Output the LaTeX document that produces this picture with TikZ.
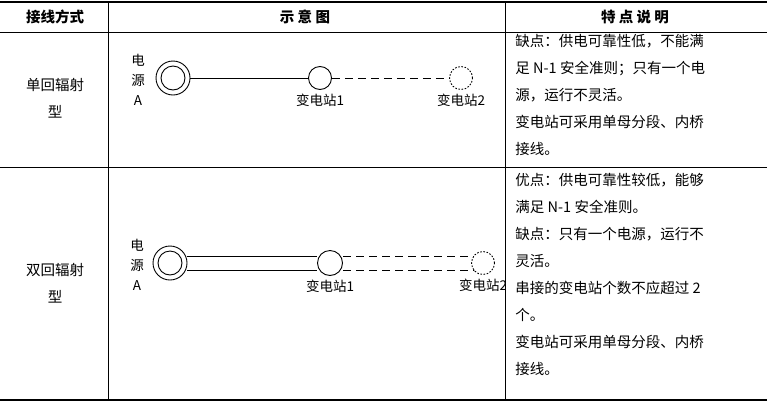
\documentclass[tikz,border=0pt]{standalone}
\usepackage{fontspec}
\setmainfont{Noto Sans CJK SC}
\usetikzlibrary{positioning}
\begin{document}
\begin{tikzpicture}[x=1pt,y=-1pt, line width=0.9pt,
  every node/.style={inner sep=0pt, font=\fontsize{14.5}{24}\selectfont},
  head/.style={font=\fontsize{14.5}{24}\selectfont\bfseries},
  note/.style={anchor=north west, align=left, font=\fontsize{14.5}{27}\selectfont},
  src/.style={circle, draw, minimum size=34pt},
  srcin/.style={circle, draw, minimum size=24pt},
  sta/.style={circle, draw, fill=white, minimum size=23pt},
  ghost/.style={circle, draw, dash pattern=on 1.6pt off 1.6pt, fill=white, minimum size=23pt},
  lbl/.style={font=\fontsize{13.5}{16}\selectfont},
  dashl/.style={dash pattern=on 8pt off 5pt}
]
\useasboundingbox (0,0) rectangle (767,402);
% table lines
\draw[line width=1.4pt] (0,2) -- (767,2);
\draw (0,32) -- (767,32);
\draw (0,167) -- (767,167);
\draw[line width=1.4pt] (0,400) -- (767,400);
\draw (108,2) -- (108,400);
\draw (505,2) -- (505,400);

% headers
\node[head] (h1) at (55,17) {接线方式};
\node[head] (h2) at (305,17) {示 意 图};
\node[head] (h3) at (635,17) {特 点 说 明};

% row 1
\node[align=center, font=\fontsize{14.5}{27}\selectfont] (r1) at (55,98) {单回辐射\\型};
\node[src] (a1) at (173,78) {};
\node[srcin] (a1i) at (a1) {};
\node[align=center, font=\fontsize{13.5}{20}\selectfont] (a1t) at (138,80) {电\\源\\A};
\node[sta] (s11) at (320,78) {};
\node[ghost] (s12) at (461,78) {};
\draw (a1) -- (s11);
\draw[dashl] (s11) -- (s12);
\node[lbl, below=4pt of s11] (s11t) {变电站1};
\node[lbl, below=4pt of s12] (s12t) {变电站2};
\node[note] (n1) at (515,34) {缺点：供电可靠性低，不能满\\足 N-1 安全准则；只有一个电\\源，运行不灵活。\\变电站可采用单母分段、内桥\\接线。};

% row 2
\node[align=center, font=\fontsize{14.5}{27}\selectfont] (r2) at (55,283) {双回辐射\\型};
\node[src] (a2) at (170,263) {};
\node[srcin] (a2i) at (a2) {};
\node[align=center, font=\fontsize{13.5}{20}\selectfont] (a2t) at (137,265) {电\\源\\A};
\coordinate (s22) at (483,263);
\begin{scope}
\clip (108,170) rectangle (504,398);
\draw[dashl] (330,256) -- (483,256) (330,270) -- (483,270);
\node[ghost] (s22n) at (s22) {};
\node[lbl, below=4pt of s22n] (s22t) {变电站2};
\end{scope}
\node[sta, minimum size=25pt] (s21) at (330,263) {};
\draw (a2.east |- 0,256) -- (s21.west |- 0,256);
\draw (a2.east |- 0,270) -- (s21.west |- 0,270);
\node[lbl, below=4pt of s21] (s21t) {变电站1};
\node[note] (n2) at (515,173) {优点：供电可靠性较低，能够\\满足 N-1 安全准则。\\缺点：只有一个电源，运行不\\灵活。\\串接的变电站个数不应超过 2\\个。\\变电站可采用单母分段、内桥\\接线。};
\end{tikzpicture}
\end{document}
